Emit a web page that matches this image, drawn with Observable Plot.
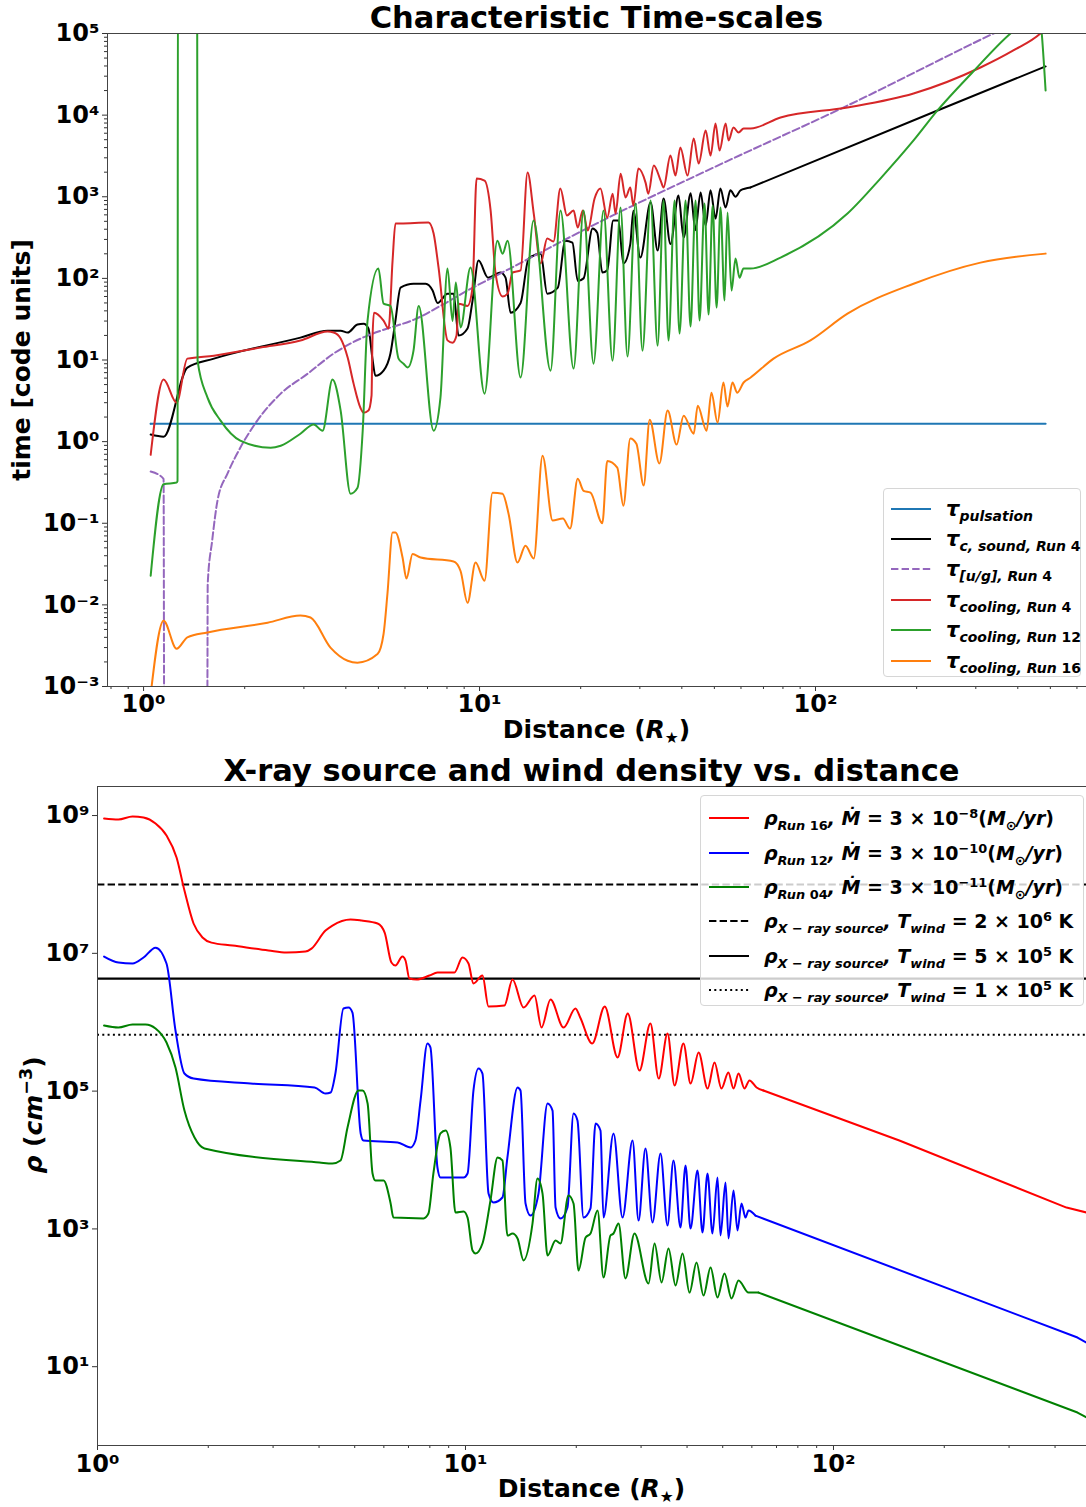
<!DOCTYPE html>
<html><head><meta charset="utf-8">
<script src="https://cdn.jsdelivr.net/npm/d3@7"></script>
<script src="https://cdn.jsdelivr.net/npm/@observablehq/plot@0.6"></script>
<style>
body{margin:0;background:#fff;font-family:"DejaVu Sans",sans-serif;color:#000;}
#wrap{position:relative;width:1086px;height:1507px;overflow:hidden;background:#fff;}
.title{font-weight:bold;font-size:30.5px;text-align:center;white-space:nowrap;line-height:34px;}
.axlab{font-weight:bold;font-size:25px;text-align:center;white-space:nowrap;line-height:30px;}
.ylab{font-weight:bold;font-size:25px;white-space:nowrap;transform:translate(-50%,-50%) rotate(-90deg);line-height:30px;}
.legend{background:rgba(255,255,255,0.8);border:1px solid #d6d6d6;border-radius:4px;box-sizing:border-box;}
.row{position:absolute;display:flex;align-items:center;white-space:nowrap;font-weight:bold;font-style:italic;height:30px;}
.row sub,.row sup{font-size:0.68em;line-height:0;}
.m1{font-size:21px;}
.s1{font-size:14px;position:relative;top:5px;}
.t2{font-size:19px;}
.up{font-style:normal;}
.star{font-size:0.62em;font-style:normal;position:relative;top:0.3em;}
</style></head>
<body><div id="wrap"></div>
<script>
// ---------------- Top panel data (distance in R*, time in code units) ----------------
const tauPulsation = [[1.05,1.66],[484,1.66]];
const tauSoundRun4 = [[1.05,1.22],[1.147,1.15],[1.35,8.07],[1.62,10.4],[2.93,18.8],[3.53,22.9],[3.86,22.9],[4.05,21.7],[4.33,27.2],[4.52,27.9],[4.67,24.3],[4.80,10.4],[4.90,6.4],[5.18,7.4],[5.43,12],[5.62,30.4],[5.82,77],[6.36,86],[6.91,86],[7.25,71],[7.50,50],[8.03,65],[8.37,65],[8.66,19.9],[9.21,24.3],[9.53,53],[9.93,165],[10.6,102],[11.55,118],[11.95,102],[12.37,38],[13.25,50],[14.0,175],[15.2,201],[15.9,65],[17.1,77],[18.0,290],[18.9,275],[19.6,93],[20.4,100],[21.7,407],[22.4,363],[23.2,118],[24.0,126],[25.0,513],[25.9,513],[26.8,152],[28.1,263],[28.7,676],[30.1,180],[32.3,849],[33.9,219],[35.3,950],[37.0,263],[39.1,1035],[40.5,316],[42.5,1100],[43.9,390],[45.5,1130],[47.1,444],[48.7,1200],[50.4,540],[52.1,1260],[54.0,738],[55.8,1200],[57.8,1000],[59.8,1200],[64.1,1300],[230.7,11400],[484,39500]];
const tauUGRun4 = [[1.05,0.43],[1.147,0.35],[1.152,3e-4],[1.546,3e-4],[1.549,1.08e-3],[1.552,0.018],[1.60,0.061],[1.66,0.19],[1.78,0.41],[1.94,0.84],[2.18,1.81],[2.56,3.87],[3.08,6.8],[3.68,12.0],[4.64,19.9],[5.32,24.3],[6.36,31],[7.65,46],[9.21,71],[11.55,115],[22.9,497],[49.7,2280],[124.5,13100],[338.5,1e5],[484,2.0e5]];
const tauCoolRun4 = [[1.05,0.69],[1.147,5.75],[1.254,3.0],[1.35,10.4],[1.62,11.3],[2.23,14.2],[2.93,17.3],[3.53,22.3],[3.68,21.7],[3.86,18.3],[4.05,10.7],[4.22,5.1],[4.42,2.6],[4.52,2.26],[4.67,2.4],[4.77,3.66],[4.80,17.4],[4.85,38],[5.18,30.4],[5.36,24.3],[5.51,165],[5.62,470],[5.82,470],[7.05,483],[7.30,354],[7.55,136],[8.03,17.4],[8.31,16.3],[8.54,20],[8.66,49],[9.21,46],[9.53,77],[9.80,1670],[10.35,1580],[10.79,678],[11.16,115],[11.71,60],[12.12,65],[12.54,118],[13.25,125],[13.9,1980],[14.5,622],[15.2,152],[15.9,308],[16.6,283],[17.4,1260],[18.2,589],[19.05,678],[19.6,420],[20.3,678],[21.0,385],[22.0,950],[22.9,1260],[24.0,556],[24.9,1090],[25.4,622],[26.3,1920],[27.2,980],[28.1,1300],[28.7,780],[29.7,2220],[31.2,1490],[31.8,1090],[33.0,2410],[34.6,1580],[35.3,1300],[37.0,3200],[38.3,1820],[39.6,4010],[41.6,1820],[43.4,5170],[44.9,2550],[47.1,6470],[48.7,3200],[50.4,7890],[51.8,3680],[54.0,7890],[55.1,4890],[57.0,7050],[59.0,6120],[61.1,6860],[64.1,6860],[78.7,9350],[124.5,12400],[195.8,18400],[309.7,38300],[388,62000],[467,1e5],[484,1.15e5]];
const tauCoolRun12 = [[1.05,0.0228],[1.147,0.30],[1.254,0.315],[1.262,0.33],[1.266,3e6],[1.443,3e6],[1.448,9.8],[1.55,3.46],[1.695,1.81],[1.94,1.03],[2.39,0.84],[2.56,0.89],[2.93,1.25],[3.21,1.62],[3.41,1.36],[3.65,5.75],[3.86,2.4],[4.13,0.23],[4.33,0.27],[4.49,1.36],[4.64,30],[5.0,132],[5.18,49],[5.43,46],[5.74,10.4],[5.94,9.0],[6.11,8.1],[6.36,13],[6.59,46],[7.30,1.36],[7.65,3.46],[8.03,132],[8.31,30],[8.50,89],[8.78,25],[9.40,136],[10.35,3.87],[11.3,290],[11.71,201],[12.12,290],[13.25,6.1],[14.48,511],[16.27,7.4],[17.42,677],[19.05,7.85],[20.40,677],[21.84,9.0],[23.39,677],[24.88,9.8],[26.28,738],[27.57,11.0],[29.13,826],[30.55,13.0],[32.29,898],[33.88,15.0],[35.29,898],[36.52,17.3],[38.06,898],[39.38,21.1],[41.04,898],[42.46,25.7],[43.95,898],[45.17,30.4],[46.75,826],[48.05,36.0],[49.40,780],[50.77,43.9],[52.15,738],[53.61,53.4],[54.72,640],[56.23,70.8],[57.80,175],[59.39,102],[61.05,132],[64.05,132],[78.7,180],[124.5,622],[156,1670],[195.8,4890],[230.7,11400],[293,33300],[380.5,1e5],[461,1.8e5],[484,2.0e4]];
const tauCoolRun16 = [[1.05,8e-4],[1.147,6.4e-3],[1.254,2.9e-3],[1.35,4.0e-3],[1.55,4.6e-3],[2.34,6.05e-3],[2.93,7.4e-3],[3.14,7.0e-3],[3.60,3.0e-3],[4.05,2.07e-3],[4.33,1.96e-3],[4.97,2.5e-3],[5.18,4.4e-3],[5.32,0.0137],[5.51,0.077],[5.62,0.077],[5.90,0.038],[6.06,0.021],[6.32,0.042],[6.68,0.038],[8.37,0.034],[8.78,0.026],[9.21,0.0106],[9.73,0.033],[10.35,0.0198],[10.93,0.237],[11.71,0.23],[12.2,0.131],[12.97,0.033],[13.7,0.053],[14.5,0.037],[15.4,0.67],[16.5,0.108],[17.7,0.114],[18.6,0.086],[19.6,0.35],[20.4,0.25],[21.4,0.237],[23.2,0.10],[24.0,0.58],[25.7,0.48],[26.8,0.164],[28.1,1.09],[29.3,0.94],[30.8,0.29],[32.1,1.86],[34.3,0.54],[36.3,2.4],[38.6,0.92],[40.5,2.08],[43.4,1.25],[44.6,2.76],[47.4,1.36],[49.0,3.98],[51.1,1.71],[53.2,5.3],[54.7,2.69],[56.6,5.3],[58.5,3.98],[61.1,5.3],[64.1,6.1],[75.0,10.4],[96.6,17.4],[124.5,37],[195.8,86],[309.7,156],[484,201]];

// ---------------- Bottom panel data (distance in R*, density in cm^-3) ----------------
const rhoRun16 = [[1.042,9.05e8],[1.14,8.75e8],[1.245,9.67e8],[1.334,9.35e8],[1.438,7.66e8],[1.54,5.13e8],[1.64,2.46e8],[1.723,8.15e7],[1.824,2.71e7],[1.929,1.70e7],[2.04,1.43e7],[2.33,1.30e7],[2.915,1.10e7],[3.264,1.03e7],[3.675,1.06e7],[3.815,1.17e7],[4.165,2.14e7],[4.35,2.53e7],[4.87,3.10e7],[5.22,2.99e7],[5.77,2.71e7],[6.03,2.00e7],[6.29,7.35e6],[6.45,6.65e6],[6.74,8.99e6],[6.87,7.87e6],[7.04,4.31e6],[7.36,4.17e6],[7.98,4.76e6],[8.39,5.26e6],[9.33,5.26e6],[9.81,8.70e6],[10.19,7.11e6],[10.51,3.65e6],[11.12,4.76e6],[11.55,1.69e6],[12.76,1.75e6],[13.42,4.17e6],[14.38,1.63e6],[15.40,2.44e6],[16.09,8.37e5],[17.02,2.13e6],[18.47,8.37e5],[19.9,1.58e6],[20.5,1.17e6],[22.1,4.91e5],[23.9,1.69e6],[25.9,3.08e5],[27.6,1.34e6],[29.7,1.99e5],[31.8,9.57e5],[33.5,1.52e5],[35.4,6.85e5],[37.0,1.21e5],[39.1,4.91e5],[40.9,1.29e5],[43.0,3.63e5],[45.5,1.09e5],[47.5,2.60e5],[49.6,1.09e5],[51.8,1.86e5],[53.5,1.09e5],[55.2,1.80e5],[57.3,1.09e5],[59.1,1.43e5],[61.8,1.13e5],[64.5,1.02e5],[151,1.92e4],[429.8,2.04e3],[487,1.73e3]];
const rhoRun12 = [[1.042,8.99e6],[1.14,7.35e6],[1.245,7.11e6],[1.334,8.70e6],[1.438,1.21e7],[1.54,7.11e6],[1.629,7.58e5],[1.723,1.80e5],[1.824,1.52e5],[2.605,1.29e5],[3.89,1.13e5],[4.165,9.23e4],[4.30,9.55e4],[4.43,1.80e5],[4.66,1.58e6],[4.81,1.63e6],[4.93,1.38e6],[5.19,2.43e4],[5.28,1.92e4],[6.54,1.80e4],[7.09,1.52e4],[7.31,1.92e4],[7.55,7.31e4],[7.88,4.91e5],[8.03,4.30e5],[8.39,7.78e3],[8.55,5.57e3],[9.88,5.57e3],[10.13,6.37e3],[10.51,1.02e5],[10.85,2.13e5],[11.12,1.80e5],[11.55,3.27e3],[11.92,2.42e3],[12.6,2.86e3],[13.0,1.09e4],[13.85,1.13e5],[14.11,1.02e5],[14.56,2.34e3],[15.02,1.56e3],[15.79,3.27e3],[16.71,6.61e4],[17.24,5.22e4],[17.57,2.05e3],[18.12,1.42e3],[18.93,2.05e3],[19.66,4.73e4],[20.15,3.74e4],[20.93,1.46e3],[21.86,1.98e3],[22.56,3.39e4],[23.27,2.68e4],[23.71,1.46e3],[25.25,2.43e4],[26.71,1.46e3],[28.44,1.92e4],[29.53,1.32e3],[30.84,1.47e4],[32.23,1.24e3],[33.88,1.24e4],[35.39,1.12e3],[36.74,9.84e3],[38.39,1.05e3],[39.62,8.32e3],[40.87,1.01e3],[42.70,7.03e3],[44.06,887],[45.46,6.37e3],[46.90,857],[48.39,5.57e3],[49.31,802],[50.88,4.71e3],[51.85,726],[53.5,3.61e3],[54.84,948],[56.23,2.34e3],[57.66,1.46e3],[58.75,1.85e3],[61.38,1.56e3],[460.3,26.5],[487,22.4]];
const rhoRun04 = [[1.042,8.95e5],[1.14,8.37e5],[1.245,9.27e5],[1.35,9.27e5],[1.438,8.11e5],[1.54,5.07e5],[1.629,2.20e5],[1.723,5.22e4],[1.835,2.12e4],[1.953,1.47e4],[4.01,9.20e3],[4.35,8.90e3],[4.575,9.84e3],[4.78,2.97e4],[5.12,1.02e5],[5.25,1.02e5],[5.42,6.61e4],[5.59,6.37e3],[5.69,5.04e3],[5.99,5.04e3],[6.26,2.34e3],[6.37,1.46e3],[7.69,1.42e3],[7.93,1.67e3],[8.18,6.37e3],[8.55,2.43e4],[8.83,2.68e4],[9.10,1.52e4],[9.39,1.73e3],[9.88,1.79e3],[10.13,1.46e3],[10.45,486],[10.65,440],[11.12,614],[11.69,2.58e3],[12.22,1.09e4],[12.6,9.84e3],[13.0,802],[13.42,857],[13.85,726],[14.38,348],[15.21,1.20e3],[15.69,5.38e3],[16.19,3.27e3],[16.71,411],[17.57,679],[18.12,614],[19.05,3.06e3],[19.66,2.34e3],[20.28,249],[21.2,750],[21.86,857],[22.85,1.85e3],[23.71,197],[24.77,802],[25.25,857],[26.05,1.20e3],[27.21,191],[28.79,857],[31.43,161],[32.64,614],[34.1,167],[35.62,520],[37.22,151],[38.89,440],[40.62,119],[42.44,325],[44.35,108],[46.34,275],[48.39,101],[50.56,225],[52.83,97.7],[55.2,178],[58.75,119],[62.56,119],[460.3,2.16],[487,1.83]];
const xraySourceRho = [1e8, 4.3e6, 6.6e5]; // T_wind = 2e6, 5e5, 1e5 K

// ---------------- Ticks / labels ----------------
const topXTicks = [1, 10, 100];
const topXTickLabels = ["10⁰", "10¹", "10²"];
const topYTicks = [1e-3, 1e-2, 1e-1, 1, 10, 100, 1e3, 1e4, 1e5];
const topYTickLabels = ["10⁻³","10⁻²","10⁻¹","10⁰","10¹","10²","10³","10⁴","10⁵"];
const botXTicks = [1, 10, 100];
const botXTickLabels = ["10⁰", "10¹", "10²"];
const botYTicks = [10, 1e3, 1e5, 1e7, 1e9];
const botYTickLabels = ["10¹","10³","10⁵","10⁷","10⁹"];

const topLegendLabels = [
  '<span class="m1">τ</span><span class="s1">pulsation</span>',
  '<span class="m1">τ</span><span class="s1">c, sound, Run <span class="up">4</span></span>',
  '<span class="m1">τ</span><span class="s1">[u/g], Run <span class="up">4</span></span>',
  '<span class="m1">τ</span><span class="s1">cooling, Run <span class="up">4</span></span>',
  '<span class="m1">τ</span><span class="s1">cooling, Run <span class="up">12</span></span>',
  '<span class="m1">τ</span><span class="s1">cooling, Run <span class="up">16</span></span>'
];
const topLegendColors = ["#1f77b4", "#000000", "#9467bd", "#d62728", "#2ca02c", "#ff7f0e"];
const topLegendDash = [null, null, "7.4,3.2", null, null, null];

const botLegendLabels = [
  '<i>ρ</i><sub>Run <span class="up">16</span></sub>, <i>Ṁ</i><span class="up">&nbsp;=&nbsp;3&nbsp;×&nbsp;10</span><sup class="up">−8</sup><span class="up">(</span><i>M</i><sub class="up">⊙</sub><i>/yr</i><span class="up">)</span>',
  '<i>ρ</i><sub>Run <span class="up">12</span></sub>, <i>Ṁ</i><span class="up">&nbsp;=&nbsp;3&nbsp;×&nbsp;10</span><sup class="up">−10</sup><span class="up">(</span><i>M</i><sub class="up">⊙</sub><i>/yr</i><span class="up">)</span>',
  '<i>ρ</i><sub>Run <span class="up">04</span></sub>, <i>Ṁ</i><span class="up">&nbsp;=&nbsp;3&nbsp;×&nbsp;10</span><sup class="up">−11</sup><span class="up">(</span><i>M</i><sub class="up">⊙</sub><i>/yr</i><span class="up">)</span>',
  '<i>ρ</i><sub>X − ray source</sub>, <i>T</i><sub>wind</sub><span class="up">&nbsp;=&nbsp;2&nbsp;×&nbsp;10</span><sup class="up">6</sup><span class="up">&nbsp;K</span>',
  '<i>ρ</i><sub>X − ray source</sub>, <i>T</i><sub>wind</sub><span class="up">&nbsp;=&nbsp;5&nbsp;×&nbsp;10</span><sup class="up">5</sup><span class="up">&nbsp;K</span>',
  '<i>ρ</i><sub>X − ray source</sub>, <i>T</i><sub>wind</sub><span class="up">&nbsp;=&nbsp;1&nbsp;×&nbsp;10</span><sup class="up">5</sup><span class="up">&nbsp;K</span>'
];
const botLegendColors = ["#ff0000", "#0000ff", "#008000", "#000000", "#000000", "#000000"];
const botLegendDash = [null, null, null, "7.4,3.2", null, "2,3.3"];

// ---------------- helpers ----------------
const xy = {x: d => d[0], y: d => d[1]};
// smooth (monotone) through the oscillating part, straight beyond xTail
function curve(data, stroke, extra = {}, xTail = Infinity) {
  const base = {...xy, stroke, strokeWidth: 2, clip: true, ...extra};
  const marks = [Plot.line(data.filter(d => d[0] <= xTail), {...base, curve: "monotone-x"})];
  if (xTail < Infinity) marks.push(Plot.line(data.filter(d => d[0] >= xTail), {...base, curve: "linear"}));
  return marks;
}
function minor(lo, hi) {
  const out = [];
  for (let e = -4; e <= 10; e++) for (let m = 2; m <= 9; m++) { const v = m * Math.pow(10, e); if (v >= lo && v <= hi) out.push(v); }
  return out;
}
function fmt(ticks, labels) { const mp = new Map(ticks.map((t, i) => [t, labels[i]])); return d => mp.get(d) ?? ""; }
const axisStyle = {fontSize: 24, fontWeight: "bold", label: null, stroke: "#333"};

const wrap = document.getElementById("wrap");
function place(el, left, top) { el.style.position = "absolute"; el.style.left = left + "px"; el.style.top = top + "px"; wrap.appendChild(el); }

// ---------------- Top plot ----------------
const topXDomain = [0.781, 640.6], topYDomain = [1e-3, 1e5];
const topPlot = Plot.plot({
  width: 1086, height: 750, marginTop: 33, marginBottom: 64, marginLeft: 107, marginRight: 0,
  style: {fontFamily: "DejaVu Sans, sans-serif", fontSize: "24px", fontWeight: "bold", background: "transparent", overflow: "visible"},
  x: {type: "log", domain: topXDomain},
  y: {type: "log", domain: topYDomain},
  marks: [
    curve(tauPulsation, "#1f77b4", {}, 1.05),
    curve(tauSoundRun4, "#000000", {}, 64.1),
    curve(tauUGRun4, "#9467bd", {strokeDasharray: "7.4,3.2"}),
    curve(tauCoolRun4, "#d62728"),
    curve(tauCoolRun12, "#2ca02c"),
    curve(tauCoolRun16, "#ff7f0e"),
    Plot.axisX(minor(...topXDomain), {tickSize: 3, tickFormat: () => "", label: null, stroke: "#333"}),
    Plot.axisX(topXTicks, {...axisStyle, tickSize: 5, tickPadding: 3, tickFormat: fmt(topXTicks, topXTickLabels)}),
    Plot.axisY(minor(...topYDomain), {tickSize: 3, tickFormat: () => "", label: null, stroke: "#333"}),
    Plot.axisY(topYTicks, {...axisStyle, tickSize: 5, tickPadding: 3, tickFormat: fmt(topYTicks, topYTickLabels)}),
    Plot.frame({stroke: "#444"})
  ]
});
place(topPlot, 0, 0);

// ---------------- Bottom plot ----------------
const botXDomain = [1, 487], botYDomain = [0.718, 2.64e9];
const botPlot = Plot.plot({
  width: 1086, height: 757, marginTop: 36, marginBottom: 62, marginLeft: 97, marginRight: 0,
  style: {fontFamily: "DejaVu Sans, sans-serif", fontSize: "24px", fontWeight: "bold", background: "transparent", overflow: "visible"},
  x: {type: "log", domain: botXDomain},
  y: {type: "log", domain: botYDomain},
  marks: [
    Plot.ruleY([xraySourceRho[0]], {stroke: "#000", strokeWidth: 2, strokeDasharray: "7.4,3.2"}),
    Plot.ruleY([xraySourceRho[1]], {stroke: "#000", strokeWidth: 2.2}),
    Plot.ruleY([xraySourceRho[2]], {stroke: "#000", strokeWidth: 2, strokeDasharray: "2,3.3"}),
    curve(rhoRun16, "#ff0000", {}, 64.5),
    curve(rhoRun12, "#0000ff", {}, 61.38),
    curve(rhoRun04, "#008000", {}, 62.56),
    Plot.axisX(minor(...botXDomain), {tickSize: 3, tickFormat: () => "", label: null, stroke: "#333"}),
    Plot.axisX(botXTicks, {...axisStyle, tickSize: 5, tickPadding: 4, tickFormat: fmt(botXTicks, botXTickLabels)}),
    Plot.axisY(botYTicks, {...axisStyle, tickSize: 5, tickPadding: 3, tickFormat: fmt(botYTicks, botYTickLabels)}),
    Plot.frame({stroke: "#444"})
  ]
});
place(botPlot, 0, 750);

// ---------------- Text overlays ----------------
function div(cls, html, left, top, width) {
  const d = document.createElement("div"); d.className = cls; d.innerHTML = html;
  if (width) d.style.width = width + "px";
  place(d, left, top); return d;
}
div("title", "Characteristic Time-scales", 107, 1, 979);
div("title", "X-ray source and wind density vs. distance", 97, 754, 989);
div("axlab", 'Distance (<i>R</i><span class="star">★</span>)', 107, 715, 979);
div("axlab", 'Distance (<i>R</i><span class="star">★</span>)', 97, 1474, 989);
div("ylab", "time [code units]", 22, 360);
div("ylab", '<i>ρ</i> (<i>cm</i><sup style="font-size:0.7em">−3</sup>)', 30, 1115);

function legend(left, top, w, h, labels, colors, dashes, centers, sx, sw, tx, textCls) {
  const box = document.createElement("div");
  box.className = "legend";
  box.style.width = w + "px"; box.style.height = h + "px";
  place(box, left, top);
  labels.forEach((lab, i) => {
    const r = document.createElement("div");
    r.className = "row";
    r.style.left = sx + "px"; r.style.top = (centers[i] - 15) + "px";
    const dash = dashes[i] ? `stroke-dasharray="${dashes[i]}"` : "";
    r.innerHTML = `<svg width="${sw}" height="6" style="flex:none"><line x1="0" x2="${sw}" y1="3" y2="3" stroke="${colors[i]}" stroke-width="2.2" ${dash}/></svg><span class="${textCls}" style="margin-left:${tx - sx - sw}px">${lab}</span>`;
    box.appendChild(r);
  });
}
legend(883, 488, 198, 189, topLegendLabels, topLegendColors, topLegendDash, [20, 50, 80, 111, 141, 172], 7, 40, 62, "");
legend(700, 795, 384, 211, botLegendLabels, botLegendColors, botLegendDash, [22, 57, 91, 125, 160, 194], 8, 40, 63, "t2");
</script>
</body></html>
